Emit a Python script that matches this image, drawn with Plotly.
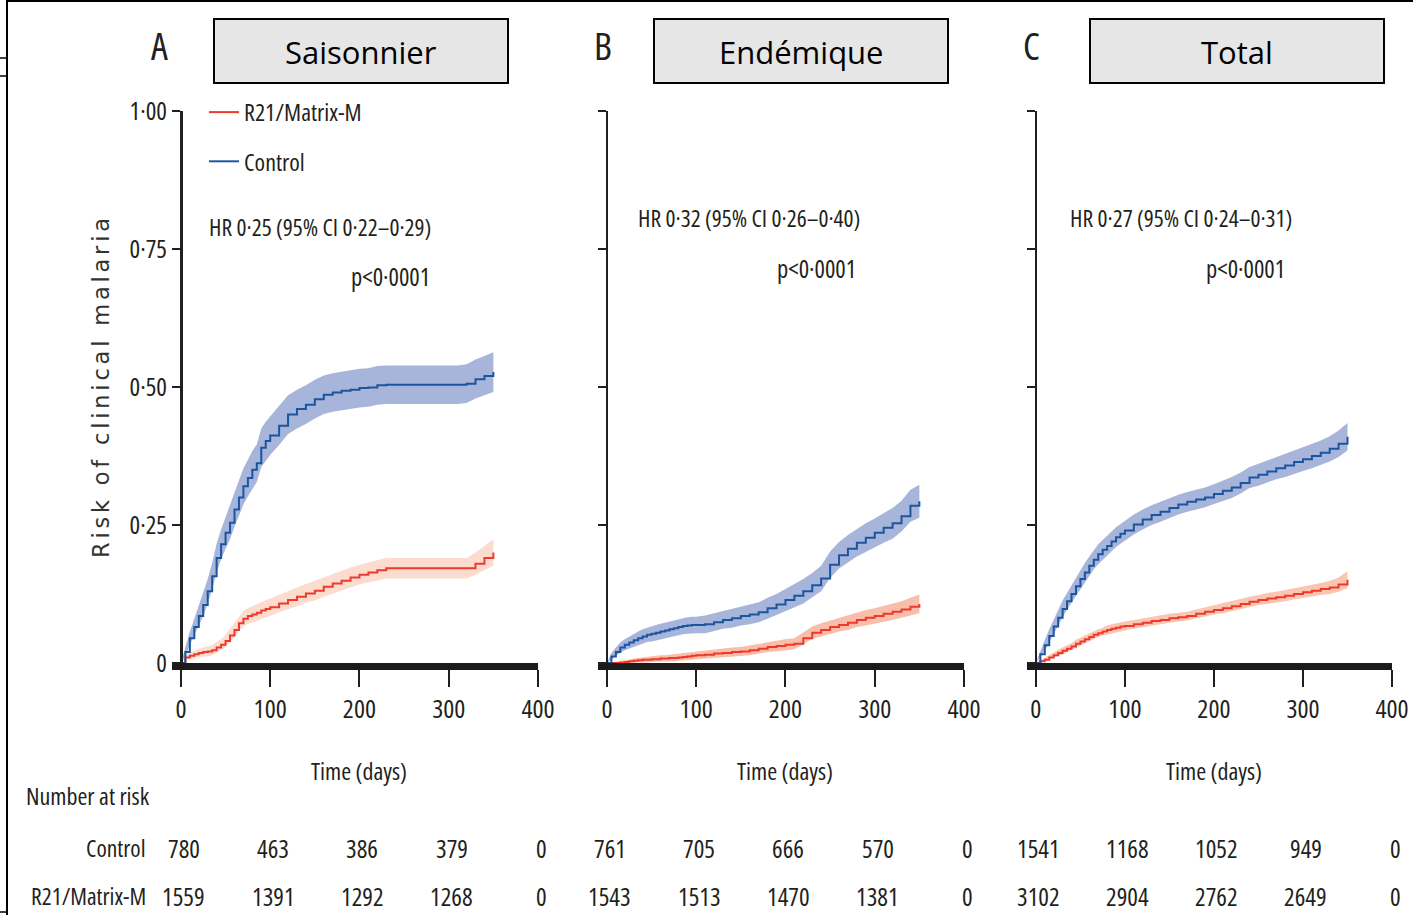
import plotly.graph_objects as go

W, H = 1413, 915

# ---------------- data ----------------
days = [0, 5, 10, 15, 20, 25, 30, 35, 40, 45, 50, 55, 60, 65, 70, 75, 80, 85, 90, 95, 100,
        110, 120, 130, 140, 150, 160, 170, 180, 190, 200, 210, 220, 230, 240, 250, 260, 270,
        280, 290, 300, 310, 320, 330, 340, 350]

# Saisonnier
seas_ctrl = [0, 0.020, 0.045, 0.065, 0.085, 0.105, 0.130, 0.157, 0.190, 0.215, 0.236, 0.254,
             0.278, 0.300, 0.320, 0.335, 0.350, 0.362, 0.390, 0.402, 0.412,
             0.430, 0.450, 0.460, 0.468, 0.478, 0.486, 0.490, 0.493, 0.495, 0.498, 0.499, 0.503,
             0.504, 0.504, 0.504, 0.504, 0.504, 0.504, 0.504, 0.504, 0.504, 0.506, 0.514, 0.520, 0.527]
seas_ctrl_lo = [0, 0.012, 0.033, 0.050, 0.067, 0.085, 0.108, 0.133, 0.164, 0.188, 0.207, 0.224,
                0.247, 0.268, 0.287, 0.302, 0.316, 0.328, 0.355, 0.367, 0.377,
                0.395, 0.415, 0.425, 0.433, 0.443, 0.451, 0.455, 0.458, 0.460, 0.463, 0.464, 0.468,
                0.469, 0.469, 0.469, 0.469, 0.469, 0.469, 0.469, 0.469, 0.469, 0.471, 0.479, 0.485, 0.491]
seas_ctrl_hi = [0, 0.028, 0.057, 0.080, 0.103, 0.125, 0.152, 0.181, 0.216, 0.242, 0.265, 0.284,
                0.309, 0.332, 0.353, 0.368, 0.384, 0.396, 0.425, 0.437, 0.447,
                0.465, 0.485, 0.495, 0.503, 0.513, 0.521, 0.525, 0.528, 0.530, 0.533, 0.534, 0.538,
                0.539, 0.539, 0.539, 0.539, 0.539, 0.539, 0.539, 0.539, 0.539, 0.541, 0.550, 0.556, 0.563]
seas_vacc = [0, 0.010, 0.013, 0.016, 0.018, 0.020, 0.021, 0.023, 0.028, 0.033, 0.040, 0.050,
             0.060, 0.072, 0.080, 0.085, 0.088, 0.091, 0.095, 0.098, 0.101,
             0.108, 0.114, 0.120, 0.126, 0.131, 0.138, 0.144, 0.149, 0.155, 0.160, 0.164, 0.168,
             0.1715, 0.1715, 0.1715, 0.1715, 0.1715, 0.1715, 0.1715, 0.1715, 0.1715, 0.1715, 0.180, 0.190, 0.200]
seas_vacc_lo = [0, 0.006, 0.007, 0.009, 0.010, 0.012, 0.012, 0.014, 0.018, 0.023, 0.029, 0.038,
                0.047, 0.059, 0.066, 0.071, 0.073, 0.076, 0.080, 0.082, 0.085,
                0.092, 0.097, 0.103, 0.109, 0.113, 0.120, 0.126, 0.131, 0.137, 0.142, 0.146, 0.150,
                0.153, 0.153, 0.153, 0.153, 0.153, 0.153, 0.153, 0.153, 0.153, 0.153, 0.160, 0.168, 0.176]
seas_vacc_hi = [0, 0.014, 0.019, 0.023, 0.026, 0.028, 0.030, 0.032, 0.038, 0.043, 0.051, 0.062,
                0.073, 0.085, 0.094, 0.099, 0.103, 0.106, 0.110, 0.114, 0.117,
                0.124, 0.131, 0.137, 0.143, 0.149, 0.156, 0.162, 0.167, 0.173, 0.178, 0.182, 0.186,
                0.190, 0.190, 0.190, 0.190, 0.190, 0.190, 0.190, 0.190, 0.190, 0.190, 0.200, 0.212, 0.224]

# Endémique
end_ctrl = [0, 0.012, 0.020, 0.028, 0.033, 0.037, 0.041, 0.045, 0.048, 0.051, 0.053, 0.055,
            0.057, 0.059, 0.061, 0.063, 0.065, 0.067, 0.068, 0.069, 0.069,
            0.070, 0.074, 0.078, 0.081, 0.085, 0.088, 0.092, 0.099, 0.106, 0.114, 0.122, 0.130,
            0.141, 0.153, 0.178, 0.195, 0.207, 0.218, 0.227, 0.236, 0.245, 0.253, 0.266, 0.285, 0.293]
end_ctrl_lo = [0, 0.006, 0.012, 0.019, 0.023, 0.026, 0.029, 0.033, 0.035, 0.038, 0.039, 0.041,
               0.043, 0.045, 0.046, 0.048, 0.050, 0.052, 0.053, 0.054, 0.054,
               0.054, 0.058, 0.062, 0.064, 0.068, 0.070, 0.074, 0.080, 0.087, 0.094, 0.101, 0.108,
               0.119, 0.130, 0.154, 0.171, 0.182, 0.193, 0.201, 0.210, 0.218, 0.225, 0.238, 0.256, 0.263]
end_ctrl_hi = [0, 0.018, 0.028, 0.037, 0.043, 0.048, 0.053, 0.057, 0.061, 0.064, 0.067, 0.069,
               0.071, 0.073, 0.076, 0.078, 0.080, 0.082, 0.083, 0.084, 0.084,
               0.086, 0.090, 0.094, 0.098, 0.102, 0.106, 0.110, 0.118, 0.125, 0.134, 0.143, 0.152,
               0.163, 0.176, 0.202, 0.219, 0.232, 0.243, 0.253, 0.262, 0.272, 0.281, 0.294, 0.314, 0.323]
end_vacc = [0, 0.000, 0.000, 0.001, 0.002, 0.003, 0.004, 0.005, 0.006, 0.006, 0.007, 0.007,
            0.008, 0.008, 0.009, 0.009, 0.010, 0.011, 0.012, 0.013, 0.014,
            0.015, 0.017, 0.018, 0.020, 0.021, 0.023, 0.026, 0.029, 0.031, 0.033, 0.035, 0.045,
            0.055, 0.060, 0.065, 0.069, 0.073, 0.078, 0.082, 0.085, 0.089, 0.093, 0.097, 0.102, 0.107]
end_vacc_lo = [0, 0, 0, 0, 0, 0, 0, 0, 0.001, 0.001, 0.002, 0.002,
               0.002, 0.002, 0.003, 0.003, 0.004, 0.004, 0.005, 0.006, 0.007,
               0.008, 0.009, 0.010, 0.012, 0.013, 0.014, 0.017, 0.020, 0.021, 0.023, 0.025, 0.034,
               0.044, 0.048, 0.053, 0.057, 0.060, 0.065, 0.068, 0.071, 0.075, 0.078, 0.082, 0.086, 0.090]
end_vacc_hi = [0, 0.001, 0.002, 0.004, 0.005, 0.006, 0.008, 0.009, 0.011, 0.011, 0.012, 0.013,
               0.014, 0.014, 0.015, 0.015, 0.016, 0.017, 0.019, 0.020, 0.021,
               0.022, 0.025, 0.026, 0.028, 0.029, 0.032, 0.035, 0.038, 0.041, 0.043, 0.045, 0.056,
               0.066, 0.072, 0.077, 0.081, 0.086, 0.091, 0.096, 0.099, 0.103, 0.108, 0.112, 0.118, 0.124]

# Total
tot_ctrl = [0, 0.016, 0.032, 0.049, 0.066, 0.082, 0.098, 0.112, 0.125, 0.139, 0.152, 0.164,
            0.176, 0.187, 0.197, 0.205, 0.212, 0.220, 0.228, 0.234, 0.240,
            0.251, 0.260, 0.268, 0.274, 0.281, 0.287, 0.292, 0.296, 0.300, 0.306, 0.312, 0.318,
            0.326, 0.336, 0.341, 0.347, 0.353, 0.358, 0.364, 0.369, 0.375, 0.381, 0.388, 0.397, 0.410]
tot_ctrl_lo = [0, 0.010, 0.022, 0.037, 0.053, 0.068, 0.083, 0.097, 0.109, 0.123, 0.135, 0.147,
               0.159, 0.170, 0.179, 0.187, 0.194, 0.202, 0.210, 0.216, 0.222,
               0.233, 0.242, 0.250, 0.256, 0.263, 0.269, 0.274, 0.278, 0.282, 0.288, 0.294, 0.299,
               0.307, 0.317, 0.321, 0.327, 0.333, 0.337, 0.343, 0.348, 0.353, 0.359, 0.365, 0.373, 0.385]
tot_ctrl_hi = [0, 0.022, 0.042, 0.061, 0.079, 0.096, 0.113, 0.127, 0.141, 0.155, 0.169, 0.181,
               0.193, 0.204, 0.215, 0.223, 0.230, 0.238, 0.246, 0.252, 0.258,
               0.269, 0.278, 0.286, 0.292, 0.299, 0.305, 0.310, 0.314, 0.318, 0.324, 0.330, 0.337,
               0.345, 0.355, 0.361, 0.367, 0.373, 0.379, 0.385, 0.390, 0.397, 0.403, 0.411, 0.421, 0.435]
tot_vacc = [0, 0.003, 0.006, 0.010, 0.014, 0.018, 0.022, 0.026, 0.030, 0.035, 0.039, 0.043,
            0.047, 0.051, 0.054, 0.057, 0.060, 0.062, 0.064, 0.066, 0.067,
            0.070, 0.073, 0.076, 0.078, 0.081, 0.083, 0.085, 0.089, 0.093, 0.096, 0.099, 0.103,
            0.107, 0.111, 0.114, 0.117, 0.119, 0.122, 0.125, 0.128, 0.131, 0.134, 0.137, 0.142, 0.151]
tot_vacc_lo = [0, 0.001, 0.003, 0.006, 0.009, 0.012, 0.016, 0.020, 0.024, 0.028, 0.032, 0.036,
               0.040, 0.044, 0.047, 0.050, 0.052, 0.054, 0.056, 0.058, 0.059,
               0.062, 0.065, 0.068, 0.070, 0.073, 0.075, 0.077, 0.081, 0.085, 0.088, 0.090, 0.094,
               0.098, 0.102, 0.105, 0.107, 0.109, 0.112, 0.115, 0.118, 0.120, 0.123, 0.125, 0.129, 0.136]
tot_vacc_hi = [0, 0.005, 0.009, 0.014, 0.019, 0.024, 0.028, 0.032, 0.036, 0.042, 0.046, 0.050,
               0.054, 0.058, 0.061, 0.064, 0.068, 0.070, 0.072, 0.074, 0.075,
               0.078, 0.081, 0.084, 0.086, 0.089, 0.091, 0.093, 0.097, 0.101, 0.104, 0.108, 0.112,
               0.116, 0.120, 0.123, 0.127, 0.129, 0.132, 0.135, 0.138, 0.142, 0.145, 0.149, 0.155, 0.166]

panel_titles = ["Saisonnier", "Endémique", "Total"]
panel_letters = ["A", "B", "C"]
hr_texts = ["HR 0·25 (95% CI 0·22–0·29)", "HR 0·32 (95% CI 0·26–0·40)", "HR 0·27 (95% CI 0·24–0·31)"]
p_text = "p<0·0001"

x_ticks = [0, 100, 200, 300, 400]
y_ticks = [0, 0.25, 0.5, 0.75, 1.0]
y_tick_labels = ["0", "0·25", "0·50", "0·75", "1·00"]

risk_control = [[780, 463, 386, 379, 0], [761, 705, 666, 570, 0], [1541, 1168, 1052, 949, 0]]
risk_vaccine = [[1559, 1391, 1292, 1268, 0], [1543, 1513, 1470, 1381, 0], [3102, 2904, 2762, 2649, 0]]

# ---------------- styling ----------------
FONT = "Open Sans"
INK = "#231f20"
BLUE = "#1b559f"
RED = "#ee3a2c"
BLUE_BAND = "#a8b5da"
RED_BANDS = ["#fcdccf", "#f9bea9", "#fac6b2"]


def cond(text):
    """Condensed face of the text font."""
    return f'<span style="font-stretch:75%">{text}</span>'


def px(x):
    return x / W


def py(y):
    return 1 - y / H


def txt_font(size):
    return dict(family=FONT, size=size, color=INK)


# panel geometry in pixels: left end of axis bar, y-axis position, right end
panels = [(172, 181, 538), (598, 607, 964), (1027, 1036, 1392)]
y_top, y_bot = 111, 663

series = [
    (seas_ctrl, seas_ctrl_lo, seas_ctrl_hi, seas_vacc, seas_vacc_lo, seas_vacc_hi),
    (end_ctrl, end_ctrl_lo, end_ctrl_hi, end_vacc, end_vacc_lo, end_vacc_hi),
    (tot_ctrl, tot_ctrl_lo, tot_ctrl_hi, tot_vacc, tot_vacc_lo, tot_vacc_hi),
]

fig = go.Figure()
layout = dict(
    width=W, height=H, margin=dict(l=0, r=0, t=0, b=0, autoexpand=False),
    paper_bgcolor="white", plot_bgcolor="rgba(0,0,0,0)",
    showlegend=True,
    legend=dict(x=px(204), y=py(90), xanchor="left", yanchor="top",
                font=txt_font(24), bgcolor="rgba(0,0,0,0)",
                tracegroupgap=15, itemwidth=30, traceorder="grouped"),
)
shapes, annotations = [], []

for i, ((bar_l, y_x, bar_r), (c, clo, chi, v, vlo, vhi)) in enumerate(zip(panels, series)):
    sfx = "" if i == 0 else str(i + 1)
    xa, ya = "x" + sfx, "y" + sfx
    first = i == 0
    # confidence bands
    for lo, hi, col in [(clo, chi, BLUE_BAND), (vlo, vhi, RED_BANDS[i])]:
        fig.add_trace(go.Scatter(x=days, y=lo, xaxis=xa, yaxis=ya, mode="lines",
                                 line=dict(width=0, color=col),
                                 showlegend=False, hoverinfo="skip"))
        fig.add_trace(go.Scatter(x=days, y=hi, xaxis=xa, yaxis=ya, mode="lines",
                                 line=dict(width=0, color=col),
                                 fill="tonexty", fillcolor=col,
                                 showlegend=False, hoverinfo="skip"))
    # cumulative incidence curves
    fig.add_trace(go.Scatter(x=days, y=v, xaxis=xa, yaxis=ya, mode="lines",
                             line=dict(width=2, shape="hv", color=RED),
                             name=cond("R21/Matrix-M"), legendgroup="vacc", legendrank=1,
                             showlegend=first))
    fig.add_trace(go.Scatter(x=days, y=c, xaxis=xa, yaxis=ya, mode="lines",
                             line=dict(width=2, shape="hv", color=BLUE),
                             name=cond("Control"), legendgroup="ctrl", legendrank=2,
                             showlegend=first))

    layout["xaxis" + sfx] = dict(
        domain=[px(bar_l), px(bar_r)], range=[-10, 400], anchor=ya, automargin=False,
        showline=True, linewidth=7, linecolor="#1c1a1b",
        tickvals=x_ticks, ticktext=[cond(t) for t in x_ticks],
        ticks="outside", ticklen=17, tickwidth=2, tickcolor=INK,
        tickfont=txt_font(26), ticklabelstandoff=0,
        showgrid=False, zeroline=False, fixedrange=True,
    )
    layout["yaxis" + sfx] = dict(
        domain=[py(y_bot), py(y_top)], range=[0, 1], anchor="free", position=px(y_x),
        automargin=False, showline=True, linewidth=3 if first else 2, linecolor=INK,
        tickvals=y_ticks, ticktext=[cond(t) for t in y_tick_labels],
        ticks="outside", ticklen=8, tickwidth=2, tickcolor=INK, showticklabels=first,
        tickfont=txt_font(25),
        showgrid=False, zeroline=False, fixedrange=True,
    )

    # title box and panel letter
    box_l = [214, 654, 1090][i]
    shapes.append(dict(type="rect", xref="paper", yref="paper",
                       x0=px(box_l), x1=px(box_l + 294), y0=py(83), y1=py(19),
                       fillcolor="#e6e6e6", line=dict(color="black", width=2)))
    annotations.append(dict(text=panel_titles[i], xref="paper", yref="paper",
                            x=px(box_l + 147), y=py(52), xanchor="center", yanchor="middle",
                            showarrow=False, font=dict(family=FONT, size=31, color="black")))
    annotations.append(dict(text=cond(panel_letters[i]), xref="paper", yref="paper",
                            x=px([159, 603, 1031][i]), y=py(45), xanchor="center",
                            yanchor="middle", showarrow=False, font=txt_font(38)))

    # hazard ratio text
    hr_x, hr_y = [(207, 227), (636, 218), (1068, 218)][i]
    p_x = [432, 858, 1287][i]
    annotations.append(dict(text=cond(hr_texts[i]), xref="paper", yref="paper",
                            x=px(hr_x), y=py(hr_y), xanchor="left", yanchor="middle",
                            showarrow=False, font=txt_font(23.5)))
    annotations.append(dict(text=cond(p_text), xref="paper", yref="paper",
                            x=px(p_x), y=py(hr_y + 50), xanchor="right", yanchor="middle",
                            showarrow=False, font=txt_font(24.5)))

    # x-axis title
    annotations.append(dict(text=cond("Time (days)"), xref=xa, yref="paper",
                            x=200, y=py(770), xanchor="center", yanchor="middle",
                            showarrow=False, font=txt_font(24)))

    # number at risk
    for t, nc, nv in zip(x_ticks, risk_control[i], risk_vaccine[i]):
        for n, yy in [(nc, 848), (nv, 896)]:
            annotations.append(dict(text=cond(n), xref=xa, yref="paper", x=t, y=py(yy),
                                    xanchor="center", yanchor="middle", xshift=3,
                                    showarrow=False, font=txt_font(25)))

# y-axis title
annotations.append(dict(text='<span style="letter-spacing:3.8px">Risk of clinical malaria</span>',
                        xref="paper", yref="paper", x=px(101), y=py(386), textangle=-90,
                        xanchor="center", yanchor="middle", showarrow=False,
                        font=dict(family="DejaVu Sans", size=22.5, color="#333333")))

# number-at-risk row labels
annotations.append(dict(text=cond("Number at risk"), xref="paper", yref="paper",
                        x=px(24), y=py(795), xanchor="left", yanchor="middle",
                        showarrow=False, font=txt_font(24)))
for lab, yy in [("Control", 848), ("R21/Matrix-M", 896)]:
    annotations.append(dict(text=cond(lab), xref="paper", yref="paper",
                            x=px(148), y=py(yy), xanchor="right", yanchor="middle",
                            showarrow=False, font=txt_font(23.5)))

# page frame
frame = [(7, 0, 7, H, 2), (7, 1, W, 1, 2), (0, 58, 7, 58, 1.5), (0, 76, 7, 76, 1.5),
         (0, 912, 7, 912, 1.5)]
for x0, y0, x1, y1, w in frame:
    shapes.append(dict(type="line", xref="paper", yref="paper",
                       x0=px(x0), y0=py(y0), x1=px(x1), y1=py(y1),
                       line=dict(color="black", width=w)))

layout["shapes"] = shapes
layout["annotations"] = annotations
fig.update_layout(**layout)
fig.write_html("out.html")
